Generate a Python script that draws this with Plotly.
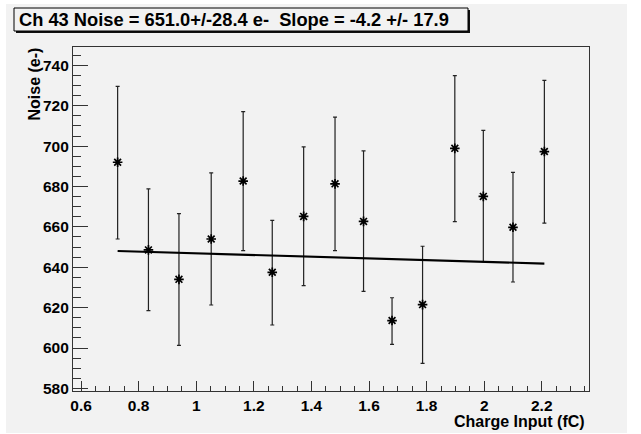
import plotly.graph_objects as go

# ---- data ----
charge_fc = [0.727, 0.834, 0.940, 1.052, 1.163, 1.264, 1.373, 1.482,
             1.581, 1.680, 1.786, 1.898, 1.997, 2.100, 2.209]
noise_e = [692.0, 648.6, 634.0, 654.0, 682.7, 637.5, 665.2, 681.3,
           662.7, 613.6, 621.5, 698.9, 675.1, 659.8, 697.3]
err_up = [37.6, 30.2, 32.6, 32.7, 34.4, 25.7, 34.4, 33.1,
          34.9, 11.3, 28.9, 36.0, 32.7, 27.2, 35.3]
err_down = [38.0, 30.1, 32.7, 32.7, 34.5, 26.1, 34.3, 33.1,
            34.7, 11.8, 29.1, 36.3, 32.3, 27.1, 35.4]
fit_intercept = 651.1
fit_slope = -4.2
x_ticks = [0.6, 0.8, 1.0, 1.2, 1.4, 1.6, 1.8, 2.0, 2.2]
x_tick_labels = ["0.6", "0.8", "1", "1.2", "1.4", "1.6", "1.8", "2", "2.2"]
y_ticks = [580, 600, 620, 640, 660, 680, 700, 720, 740]
y_tick_labels = ["580", "600", "620", "640", "660", "680", "700", "720", "740"]
title_text = "Ch 43 Noise = 651.0+/-28.4 e-  Slope = -4.2 +/- 17.9"
x_title = "Charge Input (fC)"
y_title = "Noise (e-)"

# ---- layout geometry (pixels) ----
W, H = 641, 434
L, R, T, B = 73, 589, 47, 391
pw, ph = R - L, B - T
def px(x):
    return (x - L) / pw
def py(y):
    return (B - y) / ph

BG = "#f2f2f2"
FONT = "Liberation Sans, Arial, sans-serif"

fit_x = [charge_fc[0], charge_fc[-1]]
fit_y = [fit_intercept + fit_slope * v for v in fit_x]

fig = go.Figure()
fig.add_trace(go.Scatter(
    x=charge_fc, y=noise_e, mode="markers",
    marker=dict(symbol="asterisk-open", size=8, color="black",
                line=dict(color="black", width=1.7)),
    error_y=dict(type="data", symmetric=False, array=err_up,
                 arrayminus=err_down, color="#222222", thickness=1.2, width=2),
    showlegend=False, cliponaxis=False,
))
fig.add_trace(go.Scatter(
    x=fit_x, y=fit_y, mode="lines",
    line=dict(color="black", width=2.2), showlegend=False,
))

axis_common = dict(
    showgrid=False, zeroline=False, showline=True, linecolor="#333333",
    linewidth=1.2, mirror=True, ticks="inside", tickcolor="#333333",
    tickwidth=1.2,
    tickfont=dict(family=FONT, size=15.5, color="black", weight="bold"),
)
fig.update_xaxes(
    range=[0.572, 2.364], tickmode="array", tickvals=x_ticks,
    ticktext=x_tick_labels, ticklen=10,
    minor=dict(dtick=0.05, ticks="inside", ticklen=5, tickcolor="#333333",
               tickwidth=1.2, tick0=0.6),
    **axis_common,
)
fig.update_yaxes(
    range=[578.7, 749.1], tickmode="array", tickvals=y_ticks,
    ticktext=y_tick_labels, ticklen=15,
    minor=dict(dtick=5, ticks="inside", ticklen=8, tickcolor="#333333",
               tickwidth=1.2, tick0=580),
    **axis_common,
)

shapes = [
    # grey canvas
    dict(type="rect", xref="paper", yref="paper", layer="below",
         x0=px(6), x1=px(627), y0=py(433), y1=py(4),
         fillcolor=BG, line=dict(width=0)),
    # title box shadow
    dict(type="rect", xref="paper", yref="paper",
         x0=px(16), x1=px(470), y0=py(33), y1=py(10),
         fillcolor="#111111", line=dict(width=0)),
    # title box
    dict(type="rect", xref="paper", yref="paper",
         x0=px(14), x1=px(468), y0=py(31), y1=py(8),
         fillcolor=BG, line=dict(color="black", width=1)),
]

annotations = [
    dict(text=title_text, xref="paper", yref="paper", x=px(17), y=py(19.5),
         xanchor="left", yanchor="middle", showarrow=False,
         font=dict(family=FONT, size=18.3, color="black", weight="bold")),
    dict(text=x_title, xref="paper", yref="paper", x=px(587), y=py(421),
         xanchor="right", yanchor="middle", showarrow=False,
         font=dict(family=FONT, size=16, color="black", weight="bold")),
    dict(text=y_title, xref="paper", yref="paper", x=px(34), y=py(46),
         xanchor="center", yanchor="top", textangle=-90, showarrow=False,
         font=dict(family=FONT, size=16, color="black", weight="bold")),
]

fig.update_layout(
    width=W, height=H, autosize=False,
    margin=dict(l=L, r=W - R, t=T, b=H - B, pad=0),
    paper_bgcolor="white", plot_bgcolor=BG,
    shapes=shapes, annotations=annotations,
    font=dict(family=FONT),
)

fig.write_html(
    "out.html",
    config={"displayModeBar": False},
    post_script="document.body.style.margin='0';document.body.style.padding='0';",
)
